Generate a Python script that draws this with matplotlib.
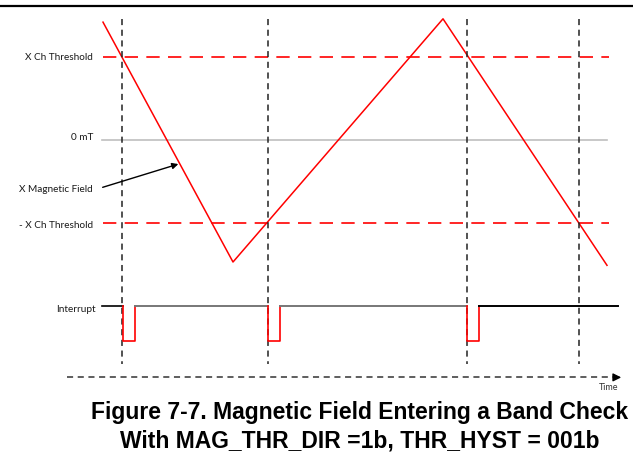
import matplotlib
matplotlib.use("Agg")
import matplotlib.pyplot as plt

# time axis in arbitrary units (roughly pixels), field in units of the X Ch threshold
field_t = [103, 233, 443, 607]
field_v = [1.42, -1.47, 1.46, -1.51]

threshold = 1.0
thr_t = [103, 609]
zero_t = [102, 607]

# crossing instants where the interrupt fires
event_t = [122, 268, 467, 579]

# interrupt trace: high / low levels drawn below the field plot
int_high = -2.0
int_low = -2.42
pulse_start = [123, 268, 467]
pulse_end = [135, 280, 479]
int_t0, int_t1 = 102, 618

label_font = "Lato"

fig = plt.figure(figsize=(6.33, 4.68), dpi=100)
ax = fig.add_axes([0, 0, 1, 1])
ax.set_xlim(0, 633)
ax.set_ylim((140 - 468) / 83, 140 / 83)
ax.axis("off")

# top rule
ax.plot([0, 633], [(140 - 6) / 83] * 2, color="black", lw=1.6)

# threshold and zero reference lines
ax.plot(thr_t, [threshold] * 2, color="red", lw=1.2, dashes=(8, 5))
ax.plot(thr_t, [-threshold] * 2, color="red", lw=1.2, dashes=(8, 5))
ax.plot(zero_t, [0, 0], color="#bfbfbf", lw=1.2)

# magnetic field triangle wave
ax.plot(field_t, field_v, color="red", lw=1.1)

# vertical event markers
for t in event_t:
    ax.plot([t, t], [1.46, -2.70], color="#222222", lw=1.1, dashes=(4, 3))

# interrupt trace
ax.plot([int_t0, pulse_start[0]], [int_high] * 2, color="black", lw=1.2)
for i, (s, e) in enumerate(zip(pulse_start, pulse_end)):
    ax.plot([s, s, e, e], [int_high, int_low, int_low, int_high], color="red", lw=1.2)
    nxt = pulse_start[i + 1] if i + 1 < len(pulse_start) else int_t1
    col = "#777777" if i + 1 < len(pulse_start) else "black"
    ax.plot([e, nxt], [int_high] * 2, color=col, lw=1.4)

# time axis arrow
ax.plot([67, 616], [-2.86, -2.86], color="#333333", lw=1.1, dashes=(4, 3))
ax.annotate("", xy=(624, -2.86), xytext=(612, -2.86),
            arrowprops=dict(arrowstyle="-|>", color="black", lw=1, mutation_scale=12))
ax.text(618, -2.93, "Time", fontsize=6.5, family=label_font, color="#333333",
        ha="right", va="top")

# left-hand labels
lab = dict(fontsize=7.2, family=label_font, ha="right", va="center", color="#1a1a1a")
ax.text(93, threshold, "X Ch Threshold", **lab)
ax.text(93, 0.03, "0 mT", **lab)
ax.text(93, -0.60, "X Magnetic Field", **lab)
ax.text(93, -1.03, "- X Ch Threshold", **lab)
ax.text(96, -2.04, "Interrupt", **lab)

# pointer to the field trace
ax.annotate("", xy=(181, -0.28), xytext=(100, -0.58),
            arrowprops=dict(arrowstyle="-|>", color="black", lw=1, mutation_scale=9))

# caption
fig.text(360 / 633, 1 - 413 / 468, "Figure 7-7. Magnetic Field Entering a Band Check",
         family="Liberation Sans", weight="bold", fontsize=16.5, ha="center", va="center")
fig.text(360 / 633, 1 - 441 / 468, "With MAG_THR_DIR =1b, THR_HYST = 001b",
         family="Liberation Sans", weight="bold", fontsize=16.5, ha="center", va="center")

fig.savefig("out.png", dpi=100)
